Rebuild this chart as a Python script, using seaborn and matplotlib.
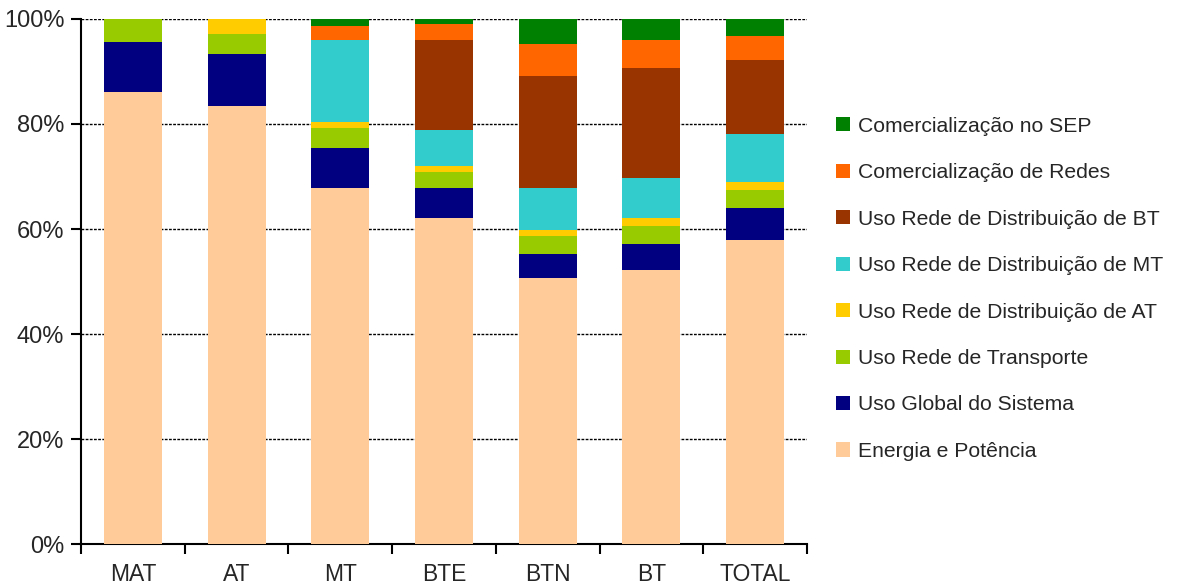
import matplotlib
matplotlib.use("Agg")
import matplotlib.pyplot as plt
from matplotlib.ticker import FixedLocator, PercentFormatter
import numpy as np
import pandas as pd
import seaborn as sns

categories = ["MAT", "AT", "MT", "BTE", "BTN", "BT", "TOTAL"]
energia = [86.1, 83.4, 67.8, 62.1, 50.7, 52.2, 57.9]
uso_global = [9.5, 9.9, 7.6, 5.7, 4.5, 4.9, 6.1]
uso_transporte = [4.4, 3.8, 3.8, 3.1, 3.5, 3.5, 3.4]
uso_dist_at = [0.0, 2.9, 1.2, 1.1, 1.1, 1.5, 1.6]
uso_dist_mt = [0.0, 0.0, 15.6, 6.9, 8.0, 7.6, 9.1]
uso_dist_bt = [0.0, 0.0, 0.0, 17.1, 21.3, 21.0, 14.1]
com_redes = [0.0, 0.0, 2.7, 3.0, 6.1, 5.3, 4.6]
com_sep = [0.0, 0.0, 1.3, 1.0, 4.8, 4.0, 3.2]

series_names = ["Energia e Potência", "Uso Global do Sistema", "Uso Rede de Transporte",
                "Uso Rede de Distribuição de AT", "Uso Rede de Distribuição de MT",
                "Uso Rede de Distribuição de BT", "Comercialização de Redes",
                "Comercialização no SEP"]
series_values = [energia, uso_global, uso_transporte, uso_dist_at, uso_dist_mt,
                 uso_dist_bt, com_redes, com_sep]
colors = ["#FFCC99", "#000080", "#99CC00", "#FFCC00", "#33CCCC", "#993300",
          "#FF6600", "#008000"]

sns.set_theme(style="white")
plt.rcParams["font.family"] = ["Liberation Sans", "DejaVu Sans"]

fig = plt.figure(figsize=(11.77, 5.88), dpi=100)
ax = fig.add_axes([0.0688, 0.0748, 0.6168, 0.8929])

cum = np.cumsum(np.array(series_values), axis=0)
for i in range(len(series_names) - 1, -1, -1):
    df = pd.DataFrame({"cat": categories, "val": cum[i]})
    sns.barplot(data=df, x="cat", y="val", order=categories, color=colors[i],
                saturation=1, width=0.56, label=series_names[i], ax=ax,
                linewidth=0, zorder=3)

ax.set_xlim(-0.5, len(categories) - 0.5)
ax.set_ylim(0, 100)
ax.set_xlabel("")
ax.set_ylabel("")

ax.set_yticks([0, 20, 40, 60, 80, 100])
ax.yaxis.set_major_formatter(PercentFormatter(decimals=0))
ax.yaxis.grid(True, color="black", linestyle=(0, (2, 1)), linewidth=1.0, zorder=0)
ax.set_axisbelow(True)

ax.xaxis.set_minor_locator(FixedLocator(np.arange(-0.5, len(categories), 1.0)))
ax.tick_params(axis="x", which="major", length=0, pad=14, labelsize=16.5)
ax.tick_params(axis="x", which="minor", length=7, width=1.5, color="black", direction="out", bottom=True)
ax.tick_params(axis="y", which="major", length=7, width=1.5, color="black", direction="out", left=True, labelsize=17, pad=5)

for s in ["top", "right"]:
    ax.spines[s].set_visible(False)
for s in ["left", "bottom"]:
    ax.spines[s].set_color("black")
    ax.spines[s].set_linewidth(1.5)

handles, labels = ax.get_legend_handles_labels()
leg = ax.legend(handles, labels, loc="center left", bbox_to_anchor=(1.029, 0.486),
                frameon=False, fontsize=15.2, handlelength=0.65, handleheight=0.65,
                handletextpad=0.37, labelspacing=1.3, borderaxespad=0)

fig.savefig("out.png", dpi=100)
